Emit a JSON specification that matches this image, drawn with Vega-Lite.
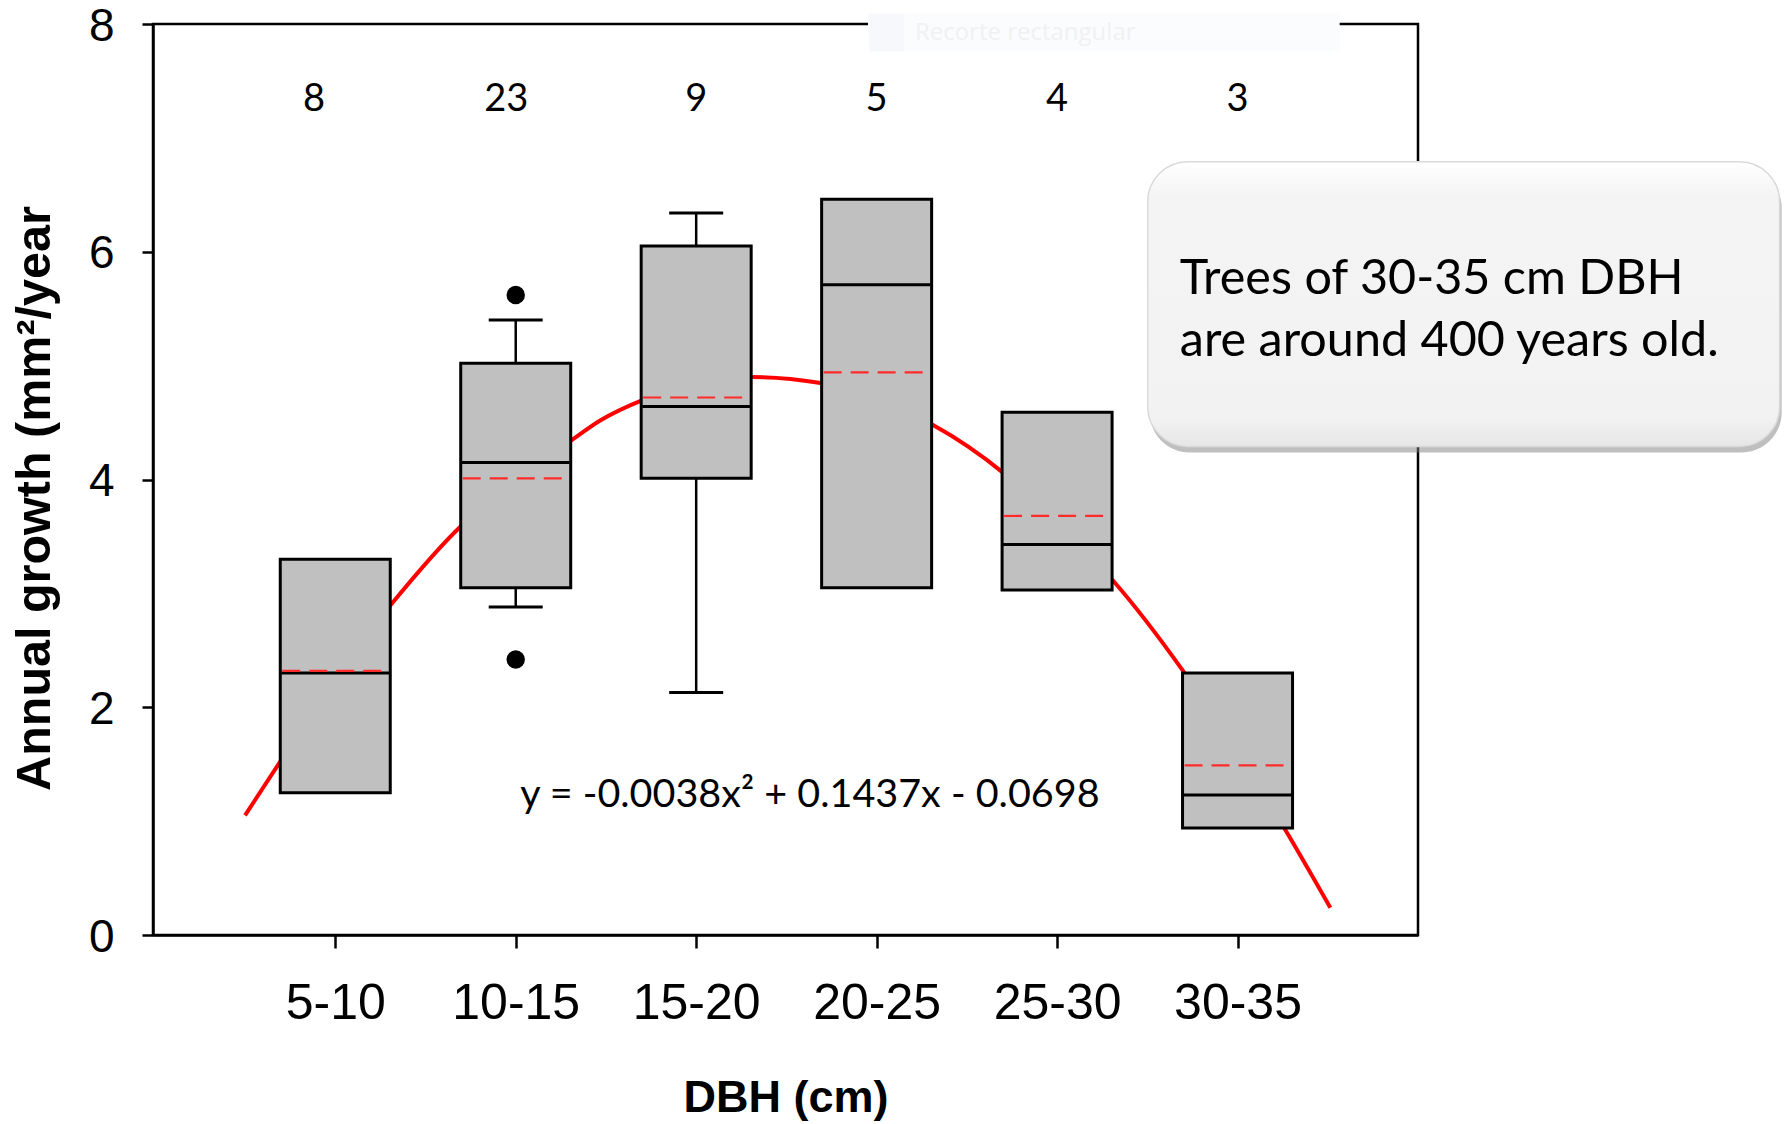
{
  "$schema": "https://vega.github.io/schema/vega-lite/v6.json",
  "width": 1265,
  "height": 911,
  "autosize": {"type": "none"},
  "padding": {"left": 153, "top": 24, "right": 367, "bottom": 189},
  "background": "white",
  "config": {
    "view": {"stroke": "black", "strokeWidth": 2.5},
    "axis": {"grid": false, "domainColor": "black", "domainWidth": 2.5, "tickColor": "black", "tickWidth": 2.5, "labelColor": "black", "titleColor": "black", "labelFlush": false}
  },
  "datasets": {
    "boxes": [
      {"dbh": "5-10", "mid": 7.5, "n": 8, "nx": 6.91, "q1": 1.25, "q3": 3.30, "median": 2.30, "mean": 2.32},
      {"dbh": "10-15", "mid": 12.5, "n": 23, "nx": 12.24, "q1": 3.05, "q3": 5.02, "median": 4.15, "mean": 4.01, "lo": 2.88, "hi": 5.40},
      {"dbh": "15-20", "mid": 17.5, "n": 9, "nx": 17.5, "q1": 4.01, "q3": 6.05, "median": 4.64, "mean": 4.72, "lo": 2.13, "hi": 6.34},
      {"dbh": "20-25", "mid": 22.5, "n": 5, "nx": 22.5, "q1": 3.05, "q3": 6.46, "median": 5.71, "mean": 4.94},
      {"dbh": "25-30", "mid": 27.5, "n": 4, "nx": 27.5, "q1": 3.03, "q3": 4.59, "median": 3.43, "mean": 3.68},
      {"dbh": "30-35", "mid": 32.5, "n": 3, "nx": 32.5, "q1": 0.94, "q3": 2.30, "median": 1.23, "mean": 1.49}
    ],
    "outliers": [
      {"mid": 12.5, "value": 5.62},
      {"mid": 12.5, "value": 2.42}
    ],
    "curve": [
      {"d": 5.0, "g": 1.05}, {"d": 6.01, "g": 1.54}, {"d": 7.5, "g": 2.27}, {"d": 9.04, "g": 2.90},
      {"d": 10.98, "g": 3.59}, {"d": 12.5, "g": 3.98}, {"d": 14.07, "g": 4.35}, {"d": 14.85, "g": 4.52},
      {"d": 16.03, "g": 4.70}, {"d": 17.5, "g": 4.84}, {"d": 19.04, "g": 4.90}, {"d": 20.9, "g": 4.85},
      {"d": 22.5, "g": 4.70}, {"d": 24.05, "g": 4.48}, {"d": 26.0, "g": 4.06}, {"d": 27.5, "g": 3.62},
      {"d": 29.03, "g": 3.12}, {"d": 31.01, "g": 2.31}, {"d": 32.5, "g": 1.60}, {"d": 33.83, "g": 0.92},
      {"d": 35.07, "g": 0.24}
    ],
    "note": [{"x1": 30.01, "x2": 47.52, "y1": 6.79, "y2": 4.29}],
    "noteText": [
      {"x": 30.9, "y": 5.76, "t": "Trees of 30-35 cm DBH"},
      {"x": 30.9, "y": 5.22, "t": "are around 400 years old."}
    ],
    "equation": [{"x": 20.65, "y": 1.23, "t": "y = -0.0038x² + 0.1437x - 0.0698"}],
    "snip": [{"x1": 22.26, "x2": 35.33, "y1": 8.09, "y2": 7.76, "ix1": 22.3, "ix2": 23.25, "tx": 23.56, "ty": 7.92, "t": "Recorte rectangular"}]
  },
  "encoding": {
    "x": {"type": "quantitative", "scale": {"domain": [2.45, 37.5], "nice": false, "zero": false}},
    "y": {"type": "quantitative", "scale": {"domain": [0, 8], "nice": false}}
  },
  "layer": [
    {
      "data": {"name": "snip"},
      "mark": {"type": "rect", "color": "#fbfcfe"},
      "encoding": {
        "x": {"field": "x1", "type": "quantitative", "axis": {
          "values": [7.5, 12.5, 17.5, 22.5, 27.5, 32.5],
          "labelExpr": "(datum.value - 2.5) + '-' + (datum.value + 2.5)",
          "title": "DBH (cm)",
          "labelFont": "Liberation Sans", "labelFontSize": 50, "labelPadding": 30, "tickSize": 13,
          "titleFont": "Liberation Sans", "titleFontSize": 45, "titleFontWeight": "bold",
          "titleY": 140, "titleBaseline": "top"
        }},
        "x2": {"field": "x2"},
        "y": {"field": "y1", "type": "quantitative", "axis": {
          "values": [0, 2, 4, 6, 8],
          "format": "d",
          "title": "Annual growth (mm²/year",
          "labelFont": "Liberation Sans", "labelFontSize": 46, "labelPadding": 28, "tickSize": 11, "labelOffset": 2,
          "titleFont": "Liberation Sans", "titleFontSize": 48.5, "titleFontWeight": "bold",
          "titleX": -119, "titleY": 474, "titleBaseline": "middle"
        }},
        "y2": {"field": "y2"}
      }
    },
    {
      "data": {"name": "snip"},
      "mark": {"type": "rect", "color": "#f6f8fc"},
      "encoding": {
        "x": {"field": "ix1", "type": "quantitative"},
        "x2": {"field": "ix2"},
        "y": {"field": "y1", "type": "quantitative"},
        "y2": {"field": "y2"}
      }
    },
    {
      "data": {"name": "snip"},
      "mark": {"type": "text", "font": "Open Sans", "fontSize": 24, "color": "#f1f1f1", "align": "left", "baseline": "middle"},
      "encoding": {
        "x": {"field": "tx", "type": "quantitative"},
        "y": {"field": "ty", "type": "quantitative"},
        "text": {"field": "t"}
      }
    },
    {
      "data": {"name": "curve"},
      "mark": {"type": "line", "color": "#ff0000", "strokeWidth": 4, "interpolate": "monotone"},
      "encoding": {
        "x": {"field": "d", "type": "quantitative"},
        "y": {"field": "g", "type": "quantitative"}
      }
    },
    {
      "data": {"name": "boxes"},
      "transform": [{"filter": "isValid(datum.hi)"}],
      "mark": {"type": "rule", "color": "black", "strokeWidth": 2.5},
      "encoding": {
        "x": {"field": "mid", "type": "quantitative"},
        "y": {"field": "q3", "type": "quantitative"},
        "y2": {"field": "hi"}
      }
    },
    {
      "data": {"name": "boxes"},
      "transform": [{"filter": "isValid(datum.lo)"}],
      "mark": {"type": "rule", "color": "black", "strokeWidth": 2.5},
      "encoding": {
        "x": {"field": "mid", "type": "quantitative"},
        "y": {"field": "lo", "type": "quantitative"},
        "y2": {"field": "q1"}
      }
    },
    {
      "data": {"name": "boxes"},
      "transform": [{"filter": "isValid(datum.hi)"}],
      "mark": {"type": "rule", "color": "black", "strokeWidth": 3, "xOffset": -27, "x2Offset": 27},
      "encoding": {
        "x": {"field": "mid", "type": "quantitative"},
        "x2": {"field": "mid"},
        "y": {"field": "hi", "type": "quantitative"}
      }
    },
    {
      "data": {"name": "boxes"},
      "transform": [{"filter": "isValid(datum.lo)"}],
      "mark": {"type": "rule", "color": "black", "strokeWidth": 3, "xOffset": -27, "x2Offset": 27},
      "encoding": {
        "x": {"field": "mid", "type": "quantitative"},
        "x2": {"field": "mid"},
        "y": {"field": "lo", "type": "quantitative"}
      }
    },
    {
      "data": {"name": "boxes"},
      "mark": {"type": "rect", "fill": "#c0c0c0", "stroke": "black", "strokeWidth": 3, "xOffset": -55, "x2Offset": 55},
      "encoding": {
        "x": {"field": "mid", "type": "quantitative"},
        "x2": {"field": "mid"},
        "y": {"field": "q1", "type": "quantitative"},
        "y2": {"field": "q3"}
      }
    },
    {
      "data": {"name": "boxes"},
      "mark": {"type": "rule", "color": "black", "strokeWidth": 3, "xOffset": -54, "x2Offset": 54},
      "encoding": {
        "x": {"field": "mid", "type": "quantitative"},
        "x2": {"field": "mid"},
        "y": {"field": "median", "type": "quantitative"}
      }
    },
    {
      "data": {"name": "boxes"},
      "mark": {"type": "rule", "color": "#ff2a2a", "strokeWidth": 2.2, "strokeDash": [18, 9], "xOffset": -53, "x2Offset": 53},
      "encoding": {
        "x": {"field": "mid", "type": "quantitative"},
        "x2": {"field": "mid"},
        "y": {"field": "mean", "type": "quantitative"}
      }
    },
    {
      "data": {"name": "outliers"},
      "mark": {"type": "circle", "color": "black", "size": 340, "opacity": 1},
      "encoding": {
        "x": {"field": "mid", "type": "quantitative"},
        "y": {"field": "value", "type": "quantitative"}
      }
    },
    {
      "data": {"name": "boxes"},
      "mark": {"type": "text", "font": "Lato", "fontSize": 38, "color": "black", "baseline": "middle", "align": "center"},
      "encoding": {
        "x": {"field": "nx", "type": "quantitative"},
        "y": {"datum": 7.33, "type": "quantitative"},
        "text": {"field": "n"}
      }
    },
    {
      "data": {"name": "equation"},
      "mark": {"type": "text", "font": "Lato", "fontSize": 39.5, "color": "black", "baseline": "middle", "align": "center"},
      "encoding": {
        "x": {"field": "x", "type": "quantitative"},
        "y": {"field": "y", "type": "quantitative"},
        "text": {"field": "t"}
      }
    },
    {
      "data": {"name": "note"},
      "mark": {"type": "rect", "color": "#808080", "opacity": 0.5, "cornerRadius": 40, "xOffset": 2, "x2Offset": 2, "yOffset": 6, "y2Offset": 6},
      "encoding": {
        "x": {"field": "x1", "type": "quantitative"},
        "x2": {"field": "x2"},
        "y": {"field": "y1", "type": "quantitative"},
        "y2": {"field": "y2"}
      }
    },
    {
      "data": {"name": "note"},
      "mark": {"type": "rect", "cornerRadius": 40, "stroke": "#dadada", "strokeWidth": 1.5,
        "fill": {"gradient": "linear", "x1": 0, "y1": 0, "x2": 0, "y2": 1, "stops": [
          {"offset": 0, "color": "#ffffff"}, {"offset": 0.12, "color": "#f4f4f4"}, {"offset": 0.9, "color": "#f2f2f2"}, {"offset": 1, "color": "#e6e6e6"}
        ]}},
      "encoding": {
        "x": {"field": "x1", "type": "quantitative"},
        "x2": {"field": "x2"},
        "y": {"field": "y1", "type": "quantitative"},
        "y2": {"field": "y2"}
      }
    },
    {
      "data": {"name": "noteText"},
      "mark": {"type": "text", "font": "Lato", "fontSize": 48.5, "color": "black", "baseline": "middle", "align": "left"},
      "encoding": {
        "x": {"field": "x", "type": "quantitative"},
        "y": {"field": "y", "type": "quantitative"},
        "text": {"field": "t"}
      }
    }
  ]
}
